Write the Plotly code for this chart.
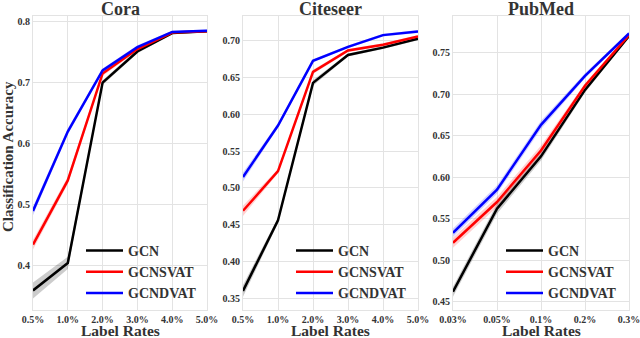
import plotly.graph_objects as go

cora_rates = ["0.5%", "1.0%", "2.0%", "3.0%", "4.0%", "5.0%"]
cora_gcn = [0.360, 0.405, 0.700, 0.751, 0.781, 0.784]
cora_svat = [0.435, 0.540, 0.715, 0.755, 0.782, 0.784]
cora_dvat = [0.490, 0.620, 0.720, 0.758, 0.783, 0.785]
cora_gcn_sd = [0.013, 0.010, 0.004, 0.003, 0.002, 0.002]
cora_svat_sd = [0.008, 0.006, 0.004, 0.003, 0.002, 0.002]
cora_dvat_sd = [0.007, 0.005, 0.003, 0.003, 0.002, 0.002]

cite_rates = ["0.5%", "1.0%", "2.0%", "3.0%", "4.0%", "5.0%"]
cite_gcn = [0.360, 0.456, 0.643, 0.681, 0.691, 0.703]
cite_svat = [0.469, 0.523, 0.658, 0.687, 0.695, 0.706]
cite_dvat = [0.515, 0.585, 0.673, 0.692, 0.708, 0.713]
cite_gcn_sd = [0.008, 0.004, 0.004, 0.002, 0.002, 0.002]
cite_svat_sd = [0.007, 0.003, 0.003, 0.002, 0.002, 0.002]
cite_dvat_sd = [0.006, 0.003, 0.002, 0.002, 0.002, 0.002]

pub_rates = ["0.03%", "0.05%", "0.1%", "0.2%", "0.3%"]
pub_gcn = [0.462, 0.562, 0.625, 0.705, 0.770]
pub_svat = [0.521, 0.570, 0.632, 0.710, 0.771]
pub_dvat = [0.533, 0.585, 0.663, 0.722, 0.773]
pub_gcn_sd = [0.006, 0.006, 0.005, 0.003, 0.002]
pub_svat_sd = [0.006, 0.006, 0.006, 0.003, 0.002]
pub_dvat_sd = [0.005, 0.005, 0.005, 0.003, 0.002]

series_names = ["GCN", "GCNSVAT", "GCNDVAT"]
line_colors = ["#000000", "#ff0000", "#0000ff"]
band_colors = ["rgba(0,0,0,0.2)", "rgba(255,0,0,0.18)", "rgba(0,0,255,0.18)"]

FONT = "Liberation Serif"
TEXT = "#333333"

panels = [
    ("Cora", cora_rates, [cora_gcn, cora_svat, cora_dvat],
     [cora_gcn_sd, cora_svat_sd, cora_dvat_sd], [0.328, 0.809], 0.1, ".1f"),
    ("Citeseer", cite_rates, [cite_gcn, cite_svat, cite_dvat],
     [cite_gcn_sd, cite_svat_sd, cite_dvat_sd], [0.334, 0.734], 0.05, ".2f"),
    ("PubMed", pub_rates, [pub_gcn, pub_svat, pub_dvat],
     [pub_gcn_sd, pub_svat_sd, pub_dvat_sd], [0.440, 0.794], 0.05, ".2f"),
]

x_domains = [[33 / 640, 207 / 640], [243 / 640, 418 / 640], [453 / 640, 629 / 640]]
y_domain = [1 - 310 / 338, 1 - 16 / 338]

fig = go.Figure()
annotations = []

for i, (title, rates, ys, sds, yrange, dtick, fmt) in enumerate(panels):
    n = i + 1
    xa = "x" if n == 1 else f"x{n}"
    ya = "y" if n == 1 else f"y{n}"
    leg = "legend" if n == 1 else f"legend{n}"

    # shaded bands first, then the mean lines on top
    for vals, sd, bc in zip(ys, sds, band_colors):
        upper = [v + s for v, s in zip(vals, sd)]
        lower = [v - s for v, s in zip(vals, sd)]
        fig.add_trace(
            go.Scatter(
                x=rates + rates[::-1],
                y=upper + lower[::-1],
                mode="lines",
                fill="toself",
                fillcolor=bc,
                line=dict(width=0),
                hoverinfo="skip",
                showlegend=False,
                xaxis=xa,
                yaxis=ya,
            )
        )
    for vals, name, c in zip(ys, series_names, line_colors):
        fig.add_trace(
            go.Scatter(
                x=rates,
                y=vals,
                mode="lines",
                name=name,
                line=dict(color=c, width=2.5),
                legend=leg,
                xaxis=xa,
                yaxis=ya,
            )
        )

    axis_common = dict(
        showgrid=True,
        gridcolor="#e3e3e3",
        gridwidth=1,
        showline=True,
        linecolor="#e3e3e3",
        linewidth=1,
        mirror=True,
        zeroline=False,
        automargin=False,
        ticks="",
        tickfont=dict(family=FONT, size=10, color=TEXT, weight="bold"),
    )
    fig.update_layout(
        {
            ("xaxis" if n == 1 else f"xaxis{n}"): dict(
                axis_common,
                domain=x_domains[i],
                anchor=ya,
                type="category",
                range=[0, len(rates) - 1],
            ),
            ("yaxis" if n == 1 else f"yaxis{n}"): dict(
                axis_common,
                domain=y_domain,
                anchor=xa,
                range=yrange,
                dtick=dtick,
                tickformat=fmt,
            ),
            leg: dict(
                x=x_domains[i][0] + 48 / 640,
                y=1 - 309 / 338,
                xanchor="left",
                yanchor="bottom",
                bgcolor="rgba(0,0,0,0)",
                font=dict(family=FONT, size=14, color=TEXT, weight="bold"),
                itemwidth=37,
                tracegroupgap=0,
            ),
        }
    )
    mid = (x_domains[i][0] + x_domains[i][1]) / 2
    annotations.append(
        dict(
            text=title,
            x=mid,
            y=1.0,
            xref="paper",
            yref="paper",
            xanchor="center",
            yanchor="top",
            yshift=3,
            showarrow=False,
            font=dict(family=FONT, size=18, color=TEXT, weight="bold"),
        )
    )
    annotations.append(
        dict(
            text="Label Rates",
            x=mid,
            y=0.0,
            xref="paper",
            yref="paper",
            xanchor="center",
            yanchor="bottom",
            yshift=-3,
            showarrow=False,
            font=dict(family=FONT, size=15.5, color=TEXT, weight="bold"),
        )
    )

# shared y title on the left panel
annotations.append(
    dict(
        text="Classification Accuracy",
        x=8 / 640,
        y=1 - 157 / 338,
        xref="paper",
        yref="paper",
        xanchor="center",
        yanchor="middle",
        textangle=-90,
        showarrow=False,
        font=dict(family=FONT, size=15, color=TEXT, weight="bold"),
    )
)

fig.update_layout(
    annotations=annotations,
    width=640,
    height=338,
    margin=dict(l=0, r=0, t=0, b=0),
    plot_bgcolor="white",
    paper_bgcolor="white",
)

fig.write_html(
    "out.html",
    config={"displayModeBar": False},
    post_script="document.body.style.margin='0';",
)
